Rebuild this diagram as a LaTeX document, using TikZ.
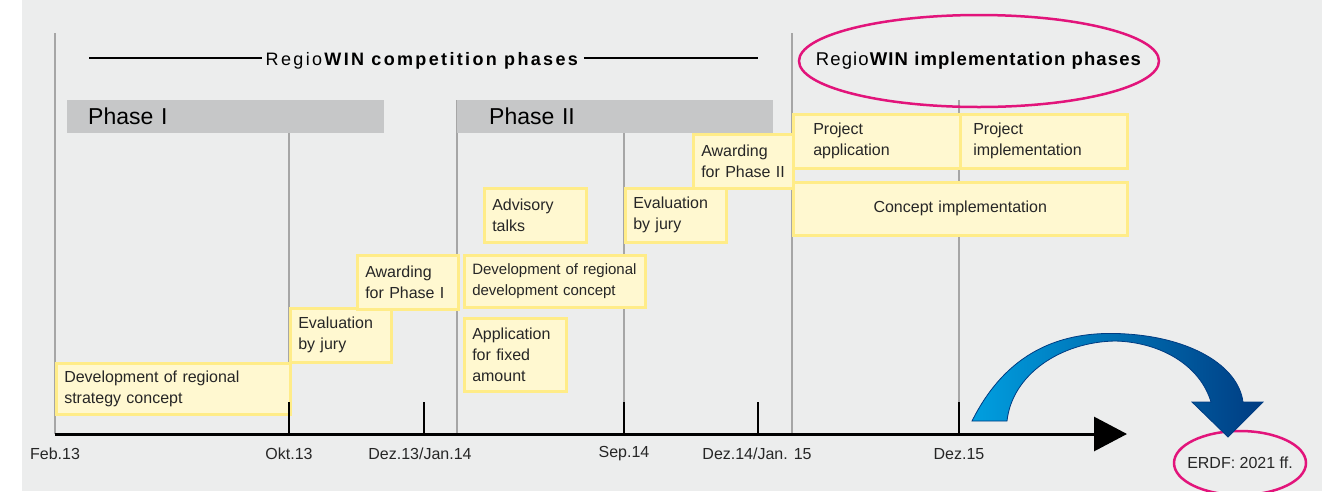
\documentclass[tikz,border=0pt]{standalone}
\usepackage{fontspec}
\setmainfont{Liberation Sans}
\newfontfamily\headfont[LetterSpace=13]{Liberation Sans}
\newfontfamily\implfont[LetterSpace=6]{Liberation Sans}
\usepackage{tikz}
\usetikzlibrary{arrows.meta}
\definecolor{bgrey}{HTML}{ECEDED}
\definecolor{bargrey}{HTML}{C6C7C8}
\definecolor{linegrey}{HTML}{A6A6A6}
\definecolor{taskfill}{HTML}{FFF8D0}
\definecolor{taskedge}{HTML}{FFEC88}
\definecolor{ringred}{HTML}{E2147B}
\definecolor{arrowlight}{HTML}{009FE0}
\definecolor{arrowmid}{HTML}{0B5DAA}
\definecolor{arrowdark}{HTML}{003C82}
\definecolor{txt}{HTML}{262626}
\tikzset{
  task/.style 2 args={draw=taskedge, fill=taskfill, line width=2.5pt, anchor=north west, inner xsep=8pt, inner ysep=0pt,
    align=left, text width=#1, minimum height=#2, font=\fontsize{16}{21}\selectfont, text=txt},
  phasebar/.style 2 args={fill=bargrey, anchor=north west, inner ysep=0pt, minimum height=33pt, align=left,
    inner xsep=#1, text width=#2, font=\fontsize{23}{26}\selectfont},
  grid/.style={linegrey, line width=2.5pt},
  tick/.style={black, line width=2.5pt},
  month/.style={font=\fontsize{16}{19}\selectfont, text=txt},
  ring/.style={draw=ringred, line width=2.5pt},
}

\begin{document}
\begin{tikzpicture}[x=1pt, y=-1pt]
    \useasboundingbox (0,0) rectangle (1322,491);
    \fill[bgrey](22,0) rectangle (1322,491);
    % months on the axis
    \coordinate (feb13) at (55,434);
    \coordinate (okt13) at (289,434);
    \coordinate (dez13) at (424,434);
    \coordinate (jan14) at (457,434);
    \coordinate (sep14) at (624,434);
    \coordinate (dez14) at (758,434);
    \coordinate (jan15) at (792,434);
    \coordinate (dez15) at (959,434);
    \coordinate (axisend) at (1127,434);
    \draw[grid](feb13)--(55,33);
    \draw[grid](okt13)--(289,133);
    \draw[grid](jan14)--(457,100);
    \draw[grid](sep14)--(624,133);
    \draw[grid](jan15)--(792,33);
    \draw[grid](dez15)--(959,100);
    % headings
    \node[font={\fontsize{18}{21}\headfont}] (comphead) at (423,61) {Regio\textbf{WIN competition phases}};
    \coordinate (hleft) at (89,58);
    \coordinate (hright) at (758,58);
    \draw[line width=2.5pt](hleft)--(hleft -| comphead.west);
    \draw[line width=2.5pt](comphead.east |- hright)--(hright);
    \node[font={\fontsize{18.5}{21}\implfont}] (implhead) at (979,61) {Regio\textbf{WIN implementation phases}};
    \draw[ring](implhead) ellipse [x radius=180, y radius=46];
    \node[phasebar={21pt}{275pt}] (phaseI) at (67,100) {Phase I};
    \node[phasebar={32pt}{252pt}] (phaseII) at (457,100) {Phase II};
    % tasks
    \node[task={218pt}{51pt}] (strat) at (55,362) {Development of regional\\strategy concept};
    \node[task={85pt}{54pt}] (evalI) at (289,307) {Evaluation\\by jury};
    \node[task={85pt}{54pt}] (awardI) at (356,254) {Awarding\\for Phase I};
    \node[task={165pt}{52pt}, font=\fontsize{15}{21}\selectfont] (devconc) at (463,254) {Development of regional\\development concept};
    \node[task={86pt}{73pt}] (applic) at (463,317) {Application\\for fixed\\amount};
    \node[task={86pt}{54pt}] (advis) at (483,187) {Advisory\\talks};
    \node[task={85pt}{54pt}] (evalII) at (624,187) {Evaluation\\by jury};
    \node[task={84pt}{54pt}] (awardII) at (692,133) {Awarding\\for Phase II};
    \node[task={127pt}{54pt}, inner xsep=20pt] (projapp) at (792,113) {Project\\application};
    \node[task={141pt}{54pt}, inner xsep=13pt] (projimpl) at (959,113) {Project\\implementation};
    \node[task={318pt}{53pt}, align=center] (concimpl) at (792,181) {Concept implementation};
    % axis
    \draw[line width=3pt, -{Triangle[length=33pt, width=34pt]}](feb13)--(axisend);
    \draw[tick](okt13)--++(0,-32);
    \draw[tick](dez13)--++(0,-32);
    \draw[tick](sep14)--++(0,-32);
    \draw[tick](dez14)--++(0,-32);
    \draw[tick](dez15)--++(0,-32);
    \node[month] (lfeb13) at (55,454) {Feb.13};
    \node[month] (lokt13) at (289,454) {Okt.13};
    \node[month] (ljan14) at (420,454) {Dez.13/Jan.14};
    \node[month] (lsep14) at (624,454) {Sep.14};
    \node[month] (ljan15) at (757,454) {Dez.14/Jan. 15};
    \node[month] (ldez15) at (959,454) {Dez.15};
    % ERDF
    \node[font=\fontsize{16}{19}\selectfont, text=txt] (erdf) at (1240,463) {ERDF: 2021 ff.};
    \draw[ring](erdf) ellipse [x radius=66, y radius=32];
    \shade[left color=arrowlight, middle color=arrowmid, right color=arrowdark, draw=arrowdark, line width=0.8pt]
      (972,421) .. controls (1010,345) and (1070,330) .. (1127,334) .. controls (1190,338) and (1238,365) .. (1243,402)
      -- (1263,402) -- (1228,437) -- (1192,402) -- (1211,402)
      .. controls (1200,365) and (1160,342) .. (1115,341) .. controls (1060,342) and (1012,375) .. (1007,421) -- cycle;
\end{tikzpicture}
\end{document}
